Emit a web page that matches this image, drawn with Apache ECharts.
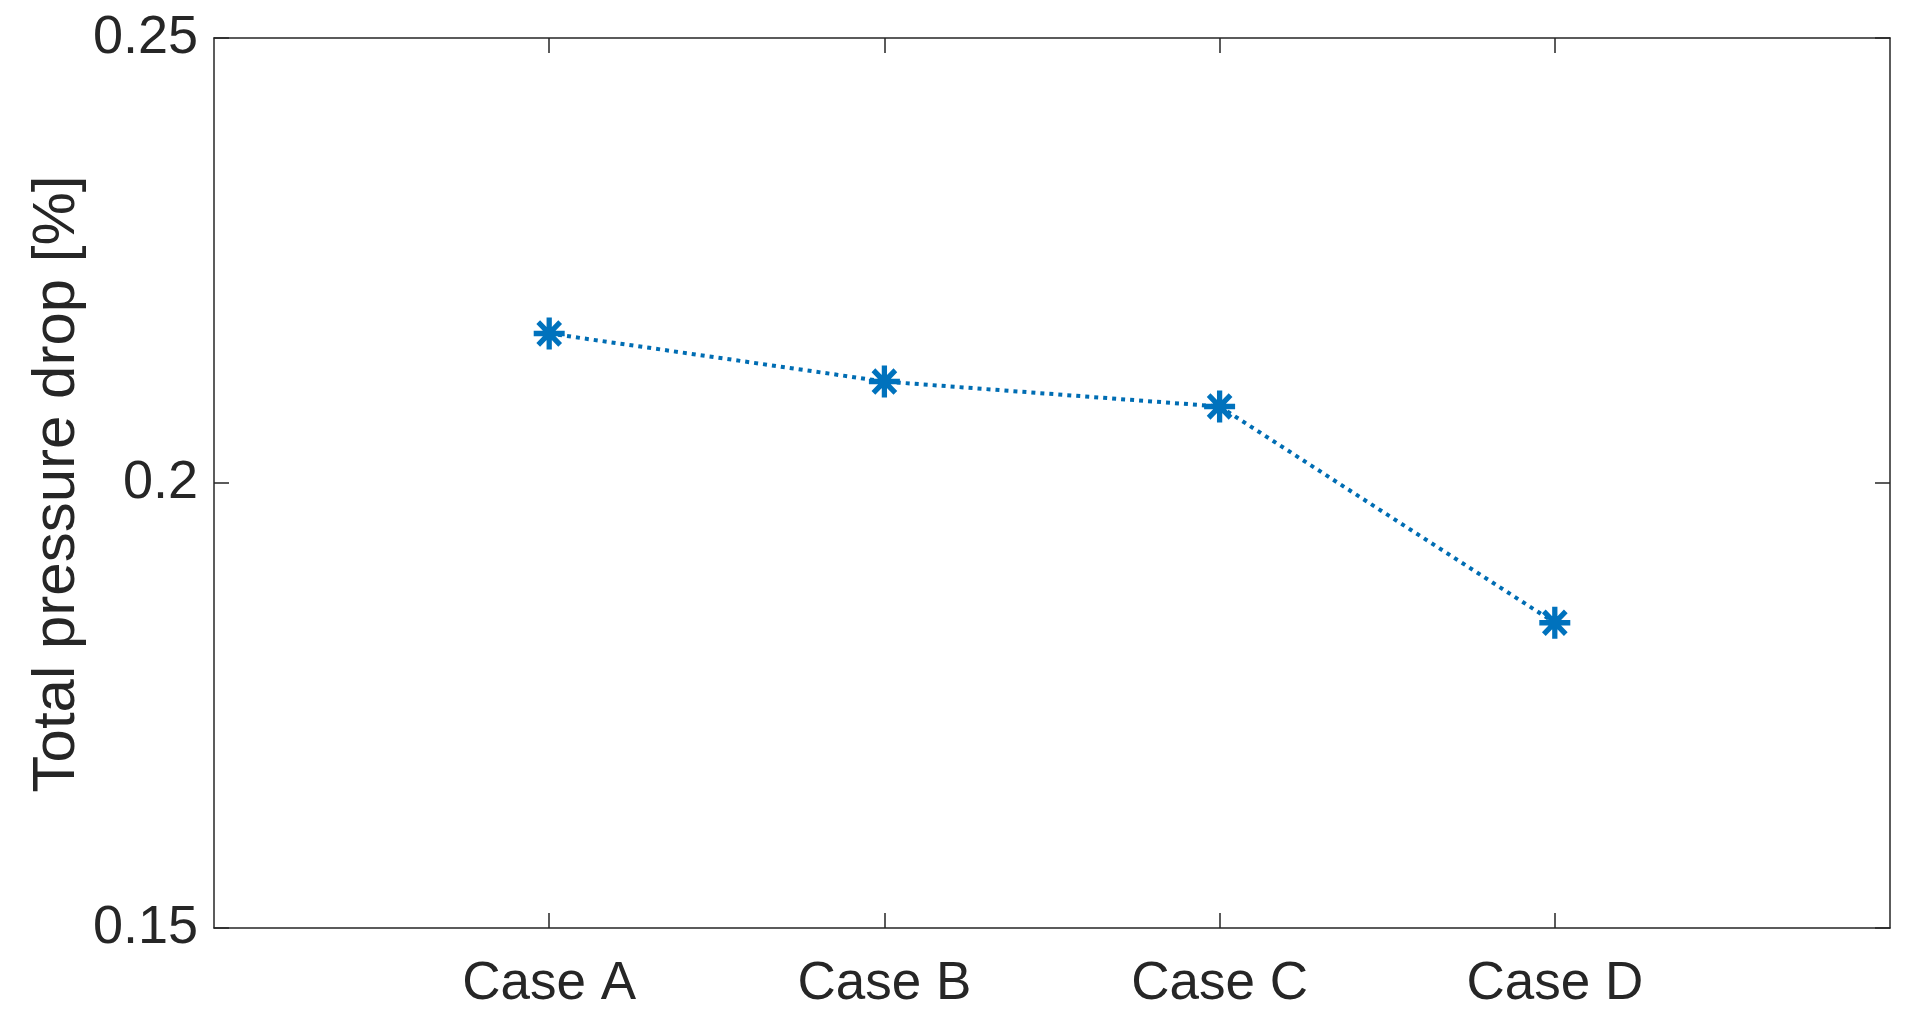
<!DOCTYPE html>
<html>
<head>
<meta charset="utf-8">
<script src="https://cdn.jsdelivr.net/npm/echarts@6/dist/echarts.min.js"></script>
<style>
html,body{margin:0;padding:0;background:#fff;}
#chart{width:1912px;height:1019px;}
</style>
</head>
<body>
<div id="chart"></div>
<script>
// Data
const categories = ['', 'Case A', 'Case B', 'Case C', 'Case D', ''];
const pressureDrop = [null, 0.2168, 0.2114, 0.2086, 0.1843, null];
const yTicks = [0.15, 0.2, 0.25];
const yLabel = 'Total pressure drop [%]';

const textColor = '#262626';
const axisColor = '#262626';
const lineColor = '#0072BD';
const fontFam = 'Liberation Sans, Arial, Helvetica, sans-serif';

const asterisk = 'path://M41.5,0 L58.5,0 L58.5,100 L41.5,100 Z M0,41.5 L100,41.5 L100,58.5 L0,58.5 Z ' +
  'M20.6,8.6 L91.4,79.4 L79.4,91.4 L8.6,20.6 Z M79.4,8.6 L91.4,20.6 L20.6,91.4 L8.6,79.4 Z';

const chart = echarts.init(document.getElementById('chart'), null, {renderer: 'canvas'});
const tickShow = (i) => categories[i] !== '';

const option = {
  animation: false,
  backgroundColor: '#ffffff',
  grid: {left: 214, right: 22, top: 38, bottom: 91, containLabel: false},
  xAxis: [{
    type: 'category', data: categories, boundaryGap: false, position: 'bottom',
    axisLine: {show: true, lineStyle: {color: axisColor, width: 1.5}},
    axisTick: {show: true, inside: true, length: 15, interval: tickShow, lineStyle: {color: axisColor, width: 1.5}},
    axisLabel: {show: true, interval: 0, margin: 30, color: textColor, fontSize: 53, fontFamily: fontFam},
    splitLine: {show: false}
  }, {
    type: 'category', data: categories, boundaryGap: false, position: 'top',
    axisLine: {show: true, lineStyle: {color: axisColor, width: 1.5}},
    axisTick: {show: true, inside: true, length: 15, interval: tickShow, lineStyle: {color: axisColor, width: 1.5}},
    axisLabel: {show: false},
    splitLine: {show: false}
  }],
  yAxis: [{
    type: 'value', min: yTicks[0], max: yTicks[yTicks.length - 1], interval: 0.05, position: 'left',
    axisLine: {show: true, lineStyle: {color: axisColor, width: 1.5}},
    axisTick: {show: true, inside: true, length: 15, lineStyle: {color: axisColor, width: 1.5}},
    axisLabel: {show: true, margin: 16, color: textColor, fontSize: 54, fontFamily: fontFam,
      formatter: (v) => String(parseFloat(v.toFixed(2)))},
    splitLine: {show: false}
  }, {
    type: 'value', min: yTicks[0], max: yTicks[yTicks.length - 1], interval: 0.05, position: 'right',
    axisLine: {show: true, lineStyle: {color: axisColor, width: 1.5}},
    axisTick: {show: true, inside: true, length: 15, lineStyle: {color: axisColor, width: 1.5}},
    axisLabel: {show: false},
    splitLine: {show: false}
  }],
  graphic: [{
    type: 'text', x: 57, y: 484, rotation: Math.PI / 2,
    style: {text: yLabel, fill: textColor, font: '60px ' + fontFam, textAlign: 'center', textVerticalAlign: 'middle'}
  }],
  series: [{
    type: 'line', xAxisIndex: 0, yAxisIndex: 0,
    data: pressureDrop,
    connectNulls: false,
    symbol: asterisk, symbolSize: [31, 32],
    itemStyle: {color: lineColor, borderWidth: 0},
    lineStyle: {color: '#006DB3', width: 4, type: [4, 5], cap: 'butt'},
    z: 3
  }]
};
chart.setOption(option);
</script>
</body>
</html>
